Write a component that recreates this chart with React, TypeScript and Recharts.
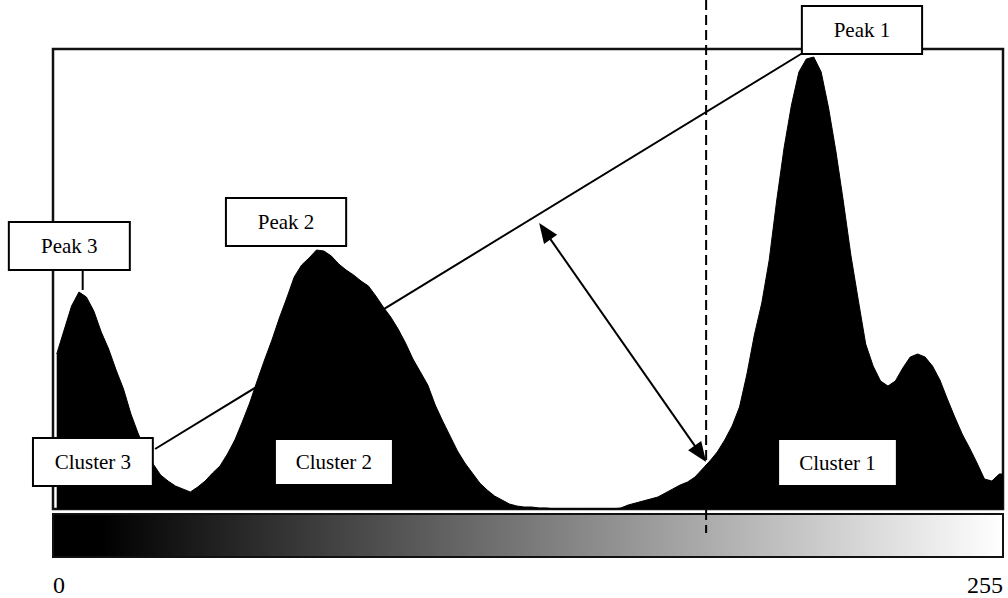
import { ComposedChart, Area, XAxis, YAxis, ReferenceArea, ReferenceLine } from 'recharts'

// grey-level histogram, 2 grey levels per bin (0..255), value read at bin centre
const BIN = 2
const counts = [
  155, 179, 203, 217, 212, 198, 177, 160, 139, 120,
  95, 75, 59, 45, 34, 28, 23, 20, 17, 22,
  28, 36, 43, 55, 69, 87, 106, 128, 149, 169,
  191, 211, 232, 244, 251, 259, 258, 253, 245, 239,
  234, 228, 223, 213, 202, 192, 180, 166, 150, 137,
  124, 104, 88, 73, 58, 46, 36, 26, 19, 13,
  9, 5, 3, 2, 2, 1, 1, 0, 0, 0,
  0, 0, 0, 0, 0, 0, 1, 4, 6, 8,
  10, 12, 16, 20, 24, 27, 32, 40, 48, 57,
  69, 83, 102, 135, 174, 206, 249, 308, 361, 404,
  437, 450, 452, 437, 401, 357, 307, 254, 209, 165,
  143, 128, 123, 128, 141, 152, 155, 152, 143, 129,
  110, 92, 75, 61, 46, 30, 28, 35,
]
const levels = counts.map((_, i) => i * BIN + BIN / 2)
const axisTicks = [0, 255]
const threshold = 176

// annotation boxes, in (grey level, count) units
const boxLabels = ['Peak 1', 'Peak 2', 'Peak 3', 'Cluster 3', 'Cluster 2', 'Cluster 1']
const boxSpots = [
  { x1: 201.8, x2: 234.2, y1: 455, y2: 503 },
  { x1: 46.6, x2: 79, y1: 263, y2: 311 },
  { x1: -11.9, x2: 20.7, y1: 239, y2: 287 },
  { x1: -5.4, x2: 26.9, y1: 23, y2: 71 },
  { x1: 59.8, x2: 91.6, y1: 24, y2: 70 },
  { x1: 195.4, x2: 227.4, y1: 23, y2: 70 },
]

const FONT = '"Liberation Serif", "Times New Roman", Times, serif'

function LabelBox(props: any) {
  const { x, y, width, height, text } = props
  return (
    <g>
      <rect x={x} y={y} width={width} height={height} fill="#fff" stroke="#000" strokeWidth={2} />
      <text
        x={x + width / 2}
        y={y + height / 2 + 7}
        textAnchor="middle"
        style={{ fontFamily: FONT, fontSize: 21 }}
        fill="#000"
      >
        {text}
      </text>
    </g>
  )
}

function DoubleArrow(props: any) {
  const { x1, y1, x2, y2 } = props
  const dx = x2 - x1
  const dy = y2 - y1
  const len = Math.hypot(dx, dy)
  const ux = dx / len
  const uy = dy / len
  const nx = -uy
  const ny = ux
  const L = 20
  const W = 8
  const head = (tx: number, ty: number, dir: number) => {
    const bx = tx + dir * ux * L
    const by = ty + dir * uy * L
    return `${tx},${ty} ${bx + nx * W},${by + ny * W} ${bx - nx * W},${by - ny * W}`
  }
  return (
    <g>
      <line
        x1={x1 + ux * L * 0.8}
        y1={y1 + uy * L * 0.8}
        x2={x2 - ux * L * 0.8}
        y2={y2 - uy * L * 0.8}
        stroke="#000"
        strokeWidth={2}
      />
      <polygon points={head(x1, y1, 1)} fill="#000" />
      <polygon points={head(x2, y2, -1)} fill="#000" />
    </g>
  )
}

function EdgeTick(props: any) {
  const { x, y, payload } = props
  const last = payload.value === axisTicks[axisTicks.length - 1]
  return (
    <text
      x={last ? x + 3.7 : x}
      y={y + 84}
      textAnchor={last ? 'end' : 'start'}
      style={{ fontFamily: FONT, fontSize: 24 }}
      fill="#000"
    >
      {payload.value}
    </text>
  )
}

export default function App() {
  const data = counts.map((count, i) => ({ level: levels[i], count }))
  // carry the last bin to the right edge
  data.push({ level: 256, count: counts[counts.length - 1] })

  return (
    <div style={{ position: 'absolute', left: 0, top: 0, width: 1008, height: 598, background: '#fff' }}>
      <ComposedChart width={1008} height={598} data={data} margin={{ top: 49, right: 5, bottom: 29, left: 53 }}>
        <defs>
          <linearGradient id="grayRamp" x1="0" y1="0" x2="1" y2="0">
            <stop offset="0%" stopColor="#000" />
            <stop offset="5%" stopColor="#000" />
            <stop offset="100%" stopColor="#fff" />
          </linearGradient>
        </defs>
        <XAxis
          type="number"
          dataKey="level"
          domain={[0, 256]}
          ticks={axisTicks}
          interval={0}
          axisLine={false}
          tickLine={false}
          tickSize={0}
          tickMargin={0}
          height={60}
          tick={EdgeTick}
        />
        <YAxis hide domain={[0, 460]} />
        <ReferenceArea x1={0} x2={256} y1={0} y2={460} fill="none" stroke="#111" strokeWidth={2.5} ifOverflow="visible" />
        <Area
          dataKey="count"
          type="linear"
          fill="#000"
          fillOpacity={1}
          stroke="#000"
          strokeWidth={1}
          isAnimationActive={false}
        />
        <ReferenceArea
          x1={0}
          x2={256}
          y1={-48}
          y2={-5}
          fill="url(#grayRamp)"
          fillOpacity={1}
          stroke="#111"
          strokeWidth={2}
          ifOverflow="visible"
        />
        <ReferenceLine
          segment={[{ x: threshold, y: 509 }, { x: threshold, y: -24 }]}
          stroke="#000"
          strokeWidth={2}
          strokeDasharray="10 5"
          ifOverflow="visible"
        />
        <ReferenceLine
          segment={[{ x: 27.5, y: 60 }, { x: 202, y: 456 }]}
          stroke="#000"
          strokeWidth={2}
          ifOverflow="visible"
        />
        <ReferenceLine
          segment={[{ x: 8, y: 219 }, { x: 8, y: 240 }]}
          stroke="#000"
          strokeWidth={2}
          ifOverflow="visible"
        />
        <ReferenceLine
          segment={[{ x: 131, y: 286 }, { x: threshold, y: 47 }]}
          ifOverflow="visible"
          shape={DoubleArrow}
        />
        {boxLabels.map((text, i) => (
          <ReferenceArea
            key={text}
            {...boxSpots[i]}
            ifOverflow="visible"
            shape={(p: any) => <LabelBox {...p} text={text} />}
          />
        ))}
      </ComposedChart>
    </div>
  )
}
